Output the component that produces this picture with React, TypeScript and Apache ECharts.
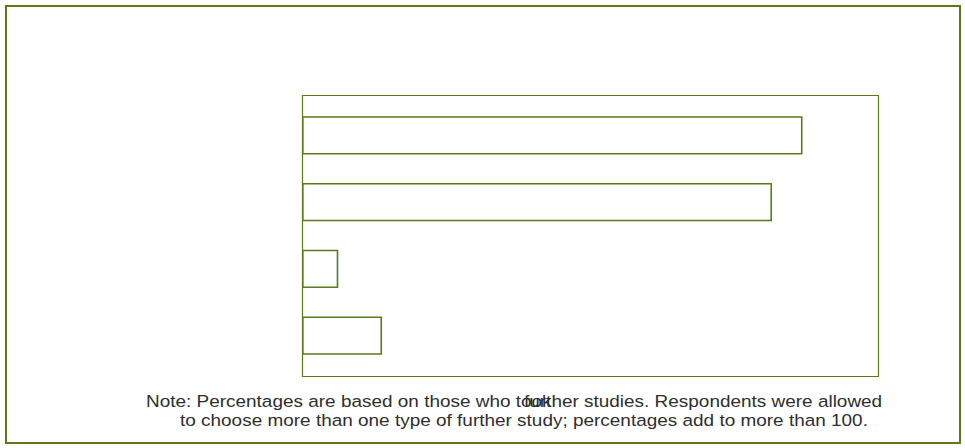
import React, { useEffect, useRef } from "react";
import * as echarts from "echarts";

const categories = ["Study type 1", "Study type 2", "Study type 3", "Study type 4"];
const percentValues = [86.9, 81.6, 6.3, 13.9];
const noteLine1a = "Note: Percentages are based on those who took";
const noteLine1b = "further studies. Respondents were allowed";
const noteLine2 = "to choose more than one type of further study; percentages add to more than 100.";

const OLIVE = "#5b7a19";
const TEXT = "#2e2e2e";
const FONT = '17px "Liberation Sans", Arial, sans-serif';
const SX = 1.115;

export default function App() {
  const ref = useRef<HTMLDivElement>(null);
  useEffect(() => {
    if (!ref.current) return;
    const chart = echarts.init(ref.current, undefined, { renderer: "svg" });
    chart.setOption({
      animation: false,
      backgroundColor: "#ffffff",
      grid: { left: 302, top: 102, width: 576, height: 267, show: false },
      xAxis: {
        type: "value",
        min: 0,
        max: 100,
        show: false,
      },
      yAxis: {
        type: "category",
        data: categories,
        inverse: true,
        axisLine: { show: false },
        axisTick: { show: false },
        axisLabel: { show: false },
      },
      series: [
        {
          type: "bar",
          data: percentValues,
          barWidth: 38.4,
          itemStyle: { color: "#ffffff", borderColor: OLIVE, borderWidth: 1.6 },
          silent: true,
        },
      ],
      graphic: [
        {
          type: "rect",
          shape: { x: 6, y: 6, width: 954, height: 437 },
          style: { fill: "none", stroke: OLIVE, lineWidth: 2 },
          silent: true,
          z: 100,
        },
        {
          type: "rect",
          shape: { x: 302.5, y: 95.5, width: 576, height: 281 },
          style: { fill: "none", stroke: OLIVE, lineWidth: 1.2 },
          silent: true,
          z: 100,
        },
        {
          type: "text",
          x: 146,
          y: 401,
          scaleX: SX,
          style: { text: noteLine1a, font: FONT, fill: TEXT, textAlign: "left", verticalAlign: "middle" },
          silent: true,
        },
        {
          type: "text",
          x: 524,
          y: 401,
          scaleX: SX,
          style: { text: noteLine1b, font: FONT, fill: TEXT, textAlign: "left", verticalAlign: "middle" },
          silent: true,
        },
        {
          type: "text",
          x: 180,
          y: 420,
          scaleX: SX,
          style: { text: noteLine2, font: FONT, fill: TEXT, textAlign: "left", verticalAlign: "middle" },
          silent: true,
        },
      ],
    });
    return () => chart.dispose();
  }, []);
  return (
    <div
      ref={ref}
      style={{ position: "fixed", left: 0, top: 0, width: 965, height: 448, background: "#fff" }}
    />
  );
}
